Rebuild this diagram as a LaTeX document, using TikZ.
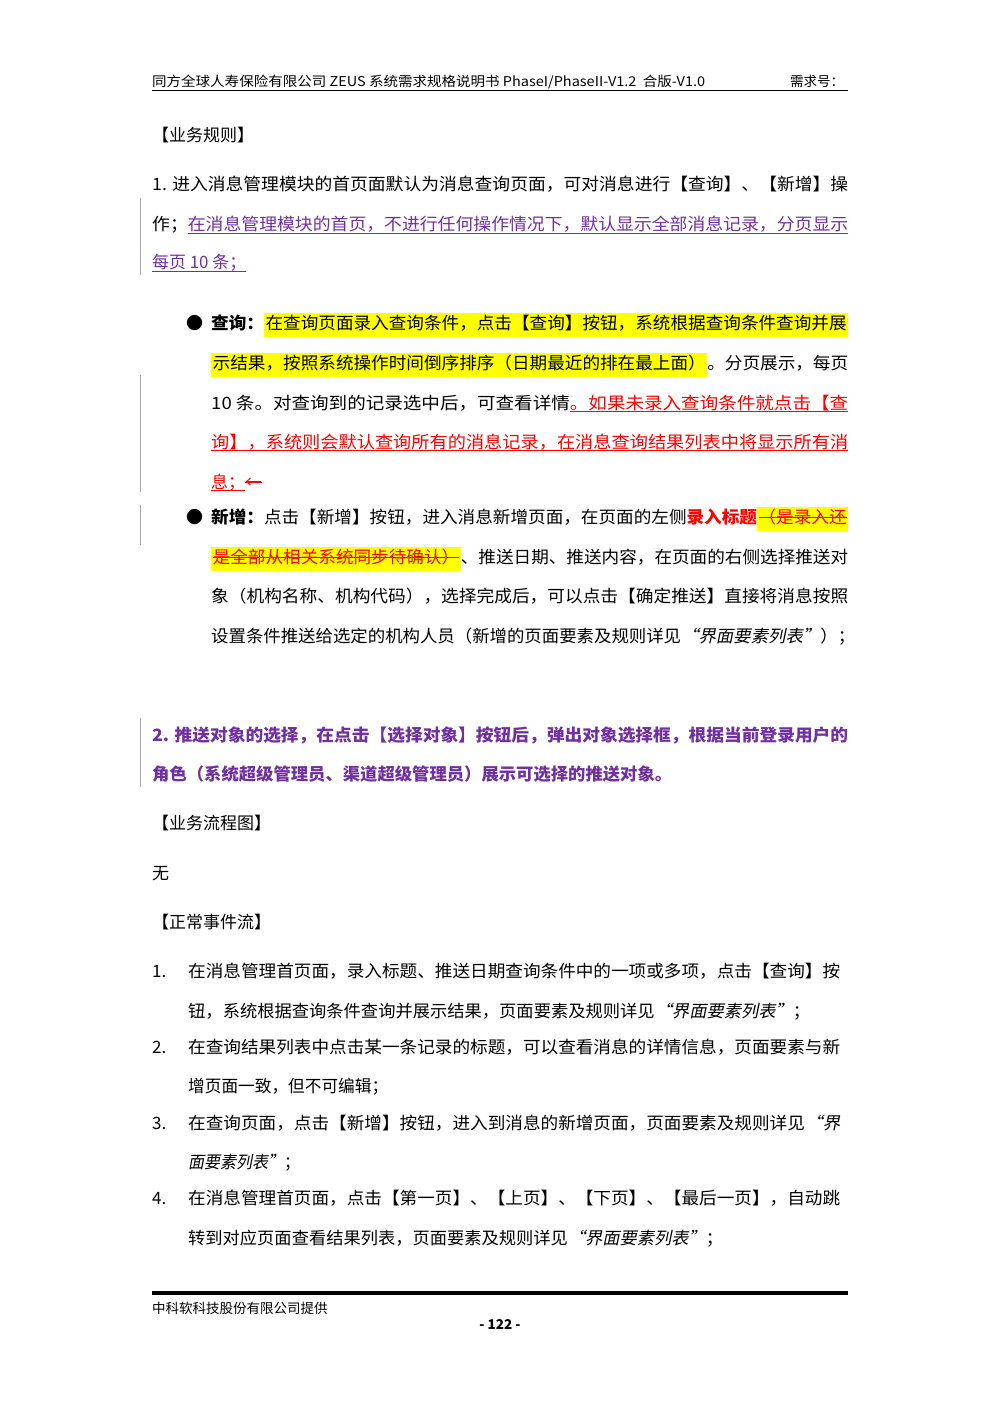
\documentclass[tikz,border=0pt]{standalone}
\usepackage{fontspec}
\usepackage{graphicx}
\setmainfont{Noto Sans CJK SC}
\newfontfamily\itf{Noto Sans CJK SC}[FakeSlant=0.2]
\definecolor{purp}{HTML}{7030A0}
\definecolor{hly}{HTML}{FFFF00}
\definecolor{redt}{HTML}{FF0000}
\newsavebox\jbox
\newsavebox\ubox
\newcommand\jl[2]{\sbox\jbox{#2}\pgfmathsetmacro\jr{#1/\the\wd\jbox}\scalebox{\jr}[1]{\usebox\jbox}}
\newcommand\hl[1]{{\setlength\fboxsep{1.5pt}\colorbox{hly}{\strut #1}}}
\newcommand\myul[1]{\sbox\ubox{#1}\rlap{\usebox\ubox}\rule[-3pt]{\wd\ubox}{0.6pt}}
\newcommand\myst[1]{\sbox\ubox{#1}\rlap{\usebox\ubox}\rule[5pt]{\wd\ubox}{0.8pt}}
\newcommand\pu[1]{{\color{purp}\myul{#1}}}
\newcommand\ru[1]{{\color{redt}\myul{#1}}}
\newcommand\rs[1]{{\color{redt}\myst{#1}}}
\begin{document}
\begin{tikzpicture}[x=1pt,y=-1pt,
  txt/.style={inner sep=0pt,anchor=base west,font=\fontsize{17}{20}\selectfont},
  hdr/.style={inner sep=0pt,anchor=base west,font=\fontsize{13.5}{16}\selectfont},
  bar/.style={draw=black!35,line width=0.6pt}]
\useasboundingbox[fill=white] (0,0) rectangle (1000,1415);
% header
\node[hdr] (h1) at (152,87) {\jl{553}{同方全球人寿保险有限公司 ZEUS 系统需求规格说明书 PhaseI/PhaseII-V1.2\ \ 合版-V1.0}};
\node[hdr] (h2) at (790,87) {需求号：};
\draw[line width=1.2pt] (152,90.5) -- (848,90.5);
% change bars
\draw[bar] (140,198) -- (140,275);
\draw[bar] (140,375) -- (140,492);
\draw[bar] (140,505) -- (140,545);
\draw[bar] (140,718) -- (140,787);
\node[txt] (t0) at (152,142) {【业务规则】};
\node[txt] (l1) at (152,191) {\jl{696}{1. 进入消息管理模块的首页面默认为消息查询页面，可对消息进行【查询】、【新增】操}};
\node[txt] (l2) at (152,231) {\jl{696}{作；\pu{在消息管理模块的首页，不进行任何操作情况下，默认显示全部消息记录，分页显示}}};
\node[txt] (l3) at (152,269) {\jl{94}{\pu{每页 10 条；}}};
% query bullet
\node[txt] (b1) at (186,329) {●};
\node[txt] (q1) at (211,329) {\jl{637}{\textbf{查询：}\hl{在查询页面录入查询条件，点击【查询】按钮，系统根据查询条件查询并展}}};
\node[txt] (q2) at (211,369) {\jl{637}{\hl{示结果，按照系统操作时间倒序排序（日期最近的排在最上面）}。分页展示，每页}};
\node[txt] (q3) at (211,409) {\jl{637}{10 条。对查询到的记录选中后，可查看详情\ru{。如果未录入查询条件就点击【查}}};
\node[txt] (q4) at (211,448) {\jl{637}{\ru{询】，系统则会默认查询所有的消息记录，在消息查询结果列表中将显示所有消}}};
\node[txt] (q5) at (211,488) {\ru{息；}{\color{redt}\myst{←}}};
% new bullet
\node[txt] (b2) at (186,523) {●};
\node[txt] (n1) at (211,523) {\jl{637}{\textbf{新增：}点击【新增】按钮，进入消息新增页面，在页面的左侧{\color{redt}\textbf{录入标题}}\hl{\rs{（是录入还}}}};
\node[txt] (n2) at (211,563) {\jl{637}{\hl{\rs{是全部从相关系统同步待确认）}}、推送日期、推送内容，在页面的右侧选择推送对}};
\node[txt] (n3) at (211,602) {\jl{637}{象（机构名称、机构代码），选择完成后，可以点击【确定推送】直接将消息按照}};
\node[txt] (n4) at (211,642) {\jl{644}{设置条件推送给选定的机构人员（新增的页面要素及规则详见{\itf “界面要素列表”}）；}};
% point 2
\node[txt] (p1) at (152,741) {\jl{696}{\color{purp}\textbf{2. 推送对象的选择，在点击【选择对象】按钮后，弹出对象选择框，根据当前登录用户的}}};
\node[txt] (p2) at (152,780) {\jl{520}{\color{purp}\textbf{角色（系统超级管理员、渠道超级管理员）展示可选择的推送对象。}}};
\node[txt] (t1) at (152,829) {【业务流程图】};
\node[txt] (t2) at (152,879) {无};
\node[txt] (t3) at (152,928) {【正常事件流】};
% events
\node[txt] (e1n) at (152,977) {1.};
\node[txt] (e1a) at (188,977) {\jl{652}{在消息管理首页面，录入标题、推送日期查询条件中的一项或多项，点击【查询】按}};
\node[txt] (e1b) at (188,1017) {\jl{622}{钮，系统根据查询条件查询并展示结果，页面要素及规则详见{\itf “界面要素列表”}；}};
\node[txt] (e2n) at (152,1053) {2.};
\node[txt] (e2a) at (188,1053) {\jl{652}{在查询结果列表中点击某一条记录的标题，可以查看消息的详情信息，页面要素与新}};
\node[txt] (e2b) at (188,1092) {\jl{200}{增页面一致，但不可编辑；}};
\node[txt] (e3n) at (152,1129) {3.};
\node[txt] (e3a) at (188,1129) {\jl{652}{在查询页面，点击【新增】按钮，进入到消息的新增页面，页面要素及规则详见{\itf “界}}};
\node[txt] (e3b) at (188,1168) {\jl{112}{{\itf 面要素列表”}；}};
\node[txt] (e4n) at (152,1204) {4.};
\node[txt] (e4a) at (188,1204) {\jl{652}{在消息管理首页面，点击【第一页】、【上页】、【下页】、【最后一页】，自动跳}};
\node[txt] (e4b) at (188,1244) {\jl{535}{转到对应页面查看结果列表，页面要素及规则详见{\itf “界面要素列表”}；}};
% footer
\draw[line width=3.5pt] (152,1293) -- (848,1293);
\node[hdr] (f1) at (152,1313) {中科软科技股份有限公司提供};
\node[hdr,anchor=base] (f2) at (500,1329) {\textbf{- 122 -}};
\end{tikzpicture}
\end{document}
